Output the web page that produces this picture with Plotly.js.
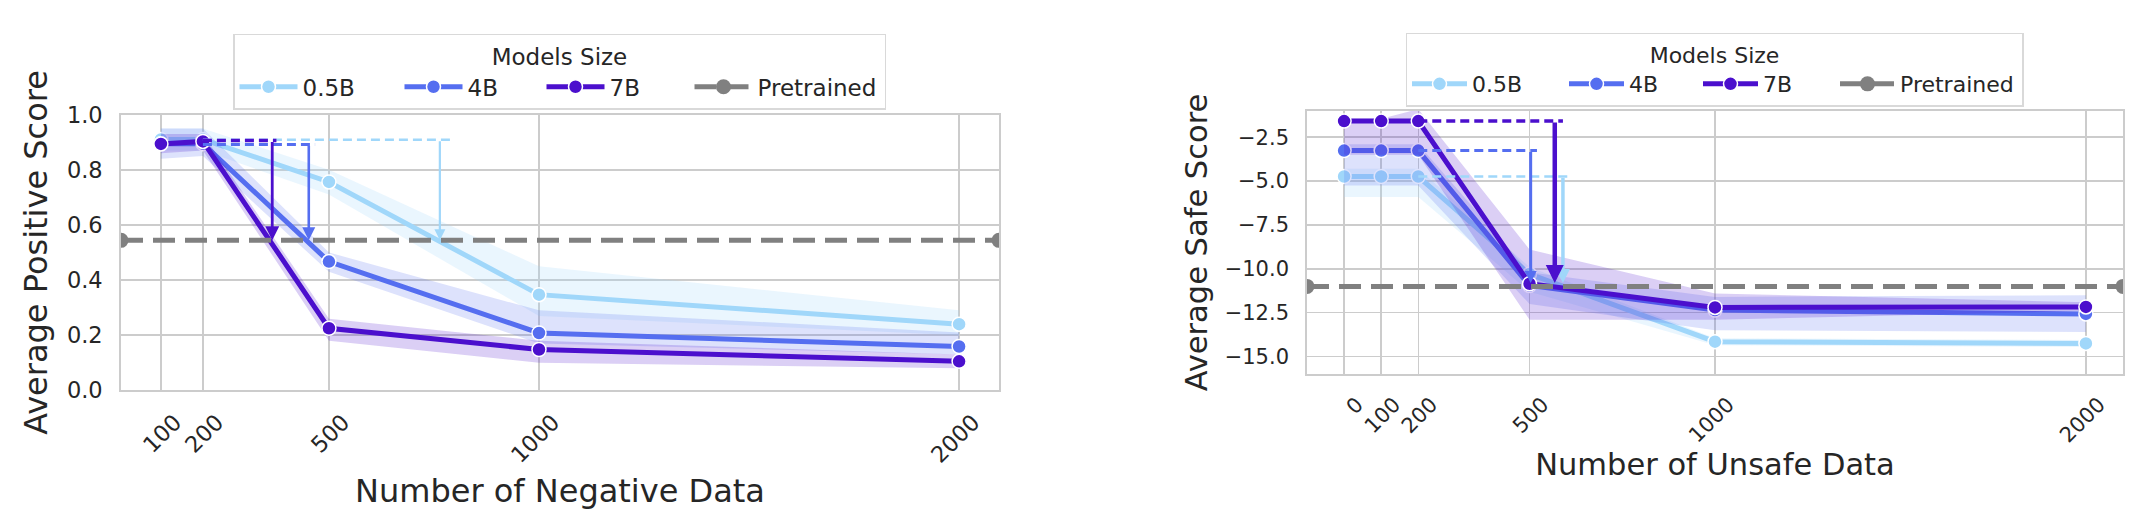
<!DOCTYPE html>
<html><head><meta charset="utf-8">
<script src="https://cdn.plot.ly/plotly-3.0.1.min.js"></script>
<style>html,body{margin:0;padding:0;background:#fff;}#chart{width:2136px;height:524px;}</style>
</head><body><div id="chart"></div>
<script>
// ---------- data ----------
const seriesNames = ['0.5B', '4B', '7B'];
const pretrainedName = 'Pretrained';
const legendTitle = 'Models Size';

// Left panel: Number of Negative Data -> Average Positive Score
const negX = [100, 200, 500, 1000, 2000];
const negTickLabels = ['100', '200', '500', '1000', '2000'];
const neg05 = [0.910, 0.910, 0.756, 0.347, 0.240];
const neg4  = [0.895, 0.895, 0.467, 0.208, 0.159];
const neg7  = [0.894, 0.903, 0.225, 0.148, 0.105];
const neg05Lo = [0.87, 0.87, 0.71, 0.27, 0.20];
const neg05Hi = [0.95, 0.95, 0.80, 0.45, 0.29];
const neg4Lo  = [0.84, 0.85, 0.43, 0.17, 0.13];
const neg4Hi  = [0.95, 0.95, 0.50, 0.29, 0.21];
const neg7Lo  = [0.86, 0.87, 0.18, 0.10, 0.08];
const neg7Hi  = [0.93, 0.93, 0.26, 0.18, 0.13];
const negPretrained = 0.544;
const negDashY   = [0.909, 0.892, 0.906];
const negDashEnd = [788, 467, 375];
const negArrowX  = [764, 452, 365];
const negYTicks = [0.0, 0.2, 0.4, 0.6, 0.8, 1.0];

// Right panel: Number of Unsafe Data -> Average Safe Score
const unsX = [0, 100, 200, 500, 1000, 2000];
const unsTickLabels = ['0', '100', '200', '500', '1000', '2000'];
const uns05 = [-4.74, -4.74, -4.74, -10.30, -14.15, -14.25];
const uns4  = [-3.26, -3.26, -3.26, -10.95, -12.35, -12.57];
const uns7  = [-1.58, -1.58, -1.58, -10.85, -12.20, -12.17];
const uns05Lo = [-5.9, -5.9, -5.9, -11.3, -14.35, -14.45];
const uns05Hi = [-4.3, -4.3, -4.3, -9.9, -13.95, -14.05];
const uns4Lo  = [-5.25, -5.25, -5.25, -12.0, -13.5, -13.6];
const uns4Hi  = [-2.9, -2.9, -2.9, -10.2, -11.6, -11.5];
const uns7Lo  = [-3.5, -3.5, -3.5, -12.9, -12.9, -12.4];
const uns7Hi  = [-1.45, -1.45, -0.9, -8.9, -11.4, -11.9];
const unsPretrained = -11.0;
const unsDashY   = [-4.74, -3.26, -1.58];
const unsDashEnd = [607, 520, 590];
const unsArrowX  = [590, 503, 568];
const unsArrowTip = [-10.8, -10.8, -10.8];
const unsYTicks = [-15.0, -12.5, -10.0, -7.5, -5.0, -2.5];

// ---------- style ----------
const colors = ['#a0d7fa', '#556ef0', '#4b0fcd'];
const bandColors = ['rgba(160,215,250,0.22)', 'rgba(85,110,240,0.2)', 'rgba(75,15,205,0.2)'];
const dashWidths = [2.5, 3, 3.5];
const negArrowWidths = [2.2, 2.6, 2.8];
const unsArrowWidths = [3.5, 3, 4.5];
const negLegendWidths = [92, 69, 75, 122];
const unsLegendWidths = [87, 64, 67, 117];
const gray = '#808080';
const font = 'DejaVu Sans, sans-serif';
const textColor = '#262626';
const W = 2136, H = 524;

function pad(xs) { const a = Math.min(...xs), b = Math.max(...xs), d = 0.05 * (b - a); return [a - d, b + d]; }
const negRange = pad(negX), unsRange = pad(unsX);

const traces = [];
function panel(xa, ya, legendId, xs, means, los, his, pre, range, dashY, dashEnd, lw) {
  for (let i = 0; i < 3; i++) {
    traces.push({x: xs, y: his[i], xaxis: xa, yaxis: ya, mode: 'lines', line: {width: 0, color: bandColors[i]},
      showlegend: false, hoverinfo: 'skip'});
    traces.push({x: xs, y: los[i], xaxis: xa, yaxis: ya, mode: 'lines', line: {width: 0, color: bandColors[i]},
      fill: 'tonexty', fillcolor: bandColors[i], showlegend: false, hoverinfo: 'skip'});
    traces.push({x: xs, y: means[i], xaxis: xa, yaxis: ya, name: seriesNames[i], legend: legendId,
      legendwidth: lw[i],
      mode: 'lines+markers', line: {color: colors[i], width: 5},
      marker: {color: colors[i], size: 14, line: {color: 'white', width: 1.5}}});
  }
  traces.push({x: range, y: [pre, pre], xaxis: xa, yaxis: ya, name: pretrainedName, legend: legendId,
    legendwidth: lw[3],
    mode: 'lines+markers', line: {color: gray, width: 5, dash: '22px,10px'},
    marker: {color: gray, size: 15}, cliponaxis: true});
  for (let i = 0; i < 3; i++) {
    traces.push({x: [xs[xs.indexOf(200)], dashEnd[i]], y: [dashY[i], dashY[i]], xaxis: xa, yaxis: ya,
      mode: 'lines', line: {color: colors[i], width: dashWidths[i], dash: '9px,5px'}, showlegend: false, hoverinfo: 'skip'});
  }
}
panel('x', 'y', 'legend', negX, [neg05, neg4, neg7], [neg05Lo, neg4Lo, neg7Lo], [neg05Hi, neg4Hi, neg7Hi],
  negPretrained, negRange, negDashY, negDashEnd, negLegendWidths);
panel('x2', 'y2', 'legend2', unsX, [uns05, uns4, uns7], [uns05Lo, uns4Lo, uns7Lo], [uns05Hi, uns4Hi, uns7Hi],
  unsPretrained, unsRange, unsDashY, unsDashEnd, unsLegendWidths);

const annotations = [];
for (let i = 0; i < 3; i++) {
  annotations.push({xref: 'x', yref: 'y', axref: 'x', ayref: 'y', x: negArrowX[i], y: negPretrained,
    ax: negArrowX[i], ay: negDashY[i], text: '', showarrow: true, arrowhead: 2, arrowsize: 1.0,
    arrowwidth: negArrowWidths[i], arrowcolor: colors[i], standoff: 0});
  annotations.push({xref: 'x2', yref: 'y2', axref: 'x2', ayref: 'y2', x: unsArrowX[i], y: unsArrowTip[i],
    ax: unsArrowX[i], ay: unsDashY[i], text: '', showarrow: true, arrowhead: 2, arrowsize: 0.8,
    arrowwidth: unsArrowWidths[i], arrowcolor: colors[i], standoff: 0});
}

function axBase(tickSize) {
  return {showgrid: true, gridcolor: '#cccccc', gridwidth: 1.5, zeroline: false, showline: true,
    linecolor: '#cccccc', linewidth: 1.8, mirror: true, ticks: '', automargin: true,
    tickfont: {family: font, size: tickSize, color: textColor}};
}
const titleFontL = {family: font, size: 32, color: textColor};
const titleFontR = {family: font, size: 30.5, color: textColor};

function legendCfg(xc, yt, fs, iw) {
  return {x: xc, xanchor: 'center', y: yt, yanchor: 'top', orientation: 'h', traceorder: 'normal',
    title: {text: legendTitle, side: 'top center', font: {family: font, size: fs, color: textColor}},
    font: {family: font, size: fs, color: textColor}, bgcolor: 'white', bordercolor: '#d9d9d9',
    borderwidth: 1.5, itemwidth: iw, itemclick: false};
}

const layout = {
  width: W, height: H, margin: {l: 0, r: 0, t: 0, b: 0, pad: 0},
  paper_bgcolor: 'white', plot_bgcolor: 'white', font: {family: font, color: textColor},
  xaxis: Object.assign(axBase(22.5), {domain: [121 / W, 999 / W], range: negRange, anchor: 'y',
    tickvals: negX, ticktext: negTickLabels, tickangle: -45, ticklabelstandoff: 8, ticklabelshift: 14,
    title: {text: 'Number of Negative Data', font: titleFontL, standoff: 13}}),
  yaxis: Object.assign(axBase(22.5), {domain: [(H - 397) / H, (H - 107) / H], range: [0, 1.0], anchor: 'x',
    tickvals: negYTicks, tickformat: '.1f', ticklabelstandoff: 12,
    title: {text: 'Average Positive Score', font: titleFontL, standoff: 10}}),
  xaxis2: Object.assign(axBase(21), {domain: [1307 / W, 2123 / W], range: unsRange, anchor: 'y2',
    tickvals: unsX, ticktext: unsTickLabels, tickangle: -45, ticklabelstandoff: 8, ticklabelshift: 13,
    title: {text: 'Number of Unsafe Data', font: titleFontR, standoff: 6}}),
  yaxis2: Object.assign(axBase(21), {domain: [(H - 380) / H, (H - 103) / H], range: [-16.0, -1.0], anchor: 'x2',
    tickvals: unsYTicks, tickformat: '.1f', ticklabelstandoff: 12,
    title: {text: 'Average Safe Score', font: titleFontR, standoff: 8}}),
  legend: legendCfg(((232 + 887) / 2) / W, (H - 22) / H, 23, 58),
  legend2: legendCfg(((1406 + 2023) / 2) / W, (H - 21) / H, 22, 55),
  annotations: annotations,
  showlegend: true
};

Plotly.newPlot('chart', traces, layout, {staticPlot: true, displayModeBar: false});
</script></body></html>
